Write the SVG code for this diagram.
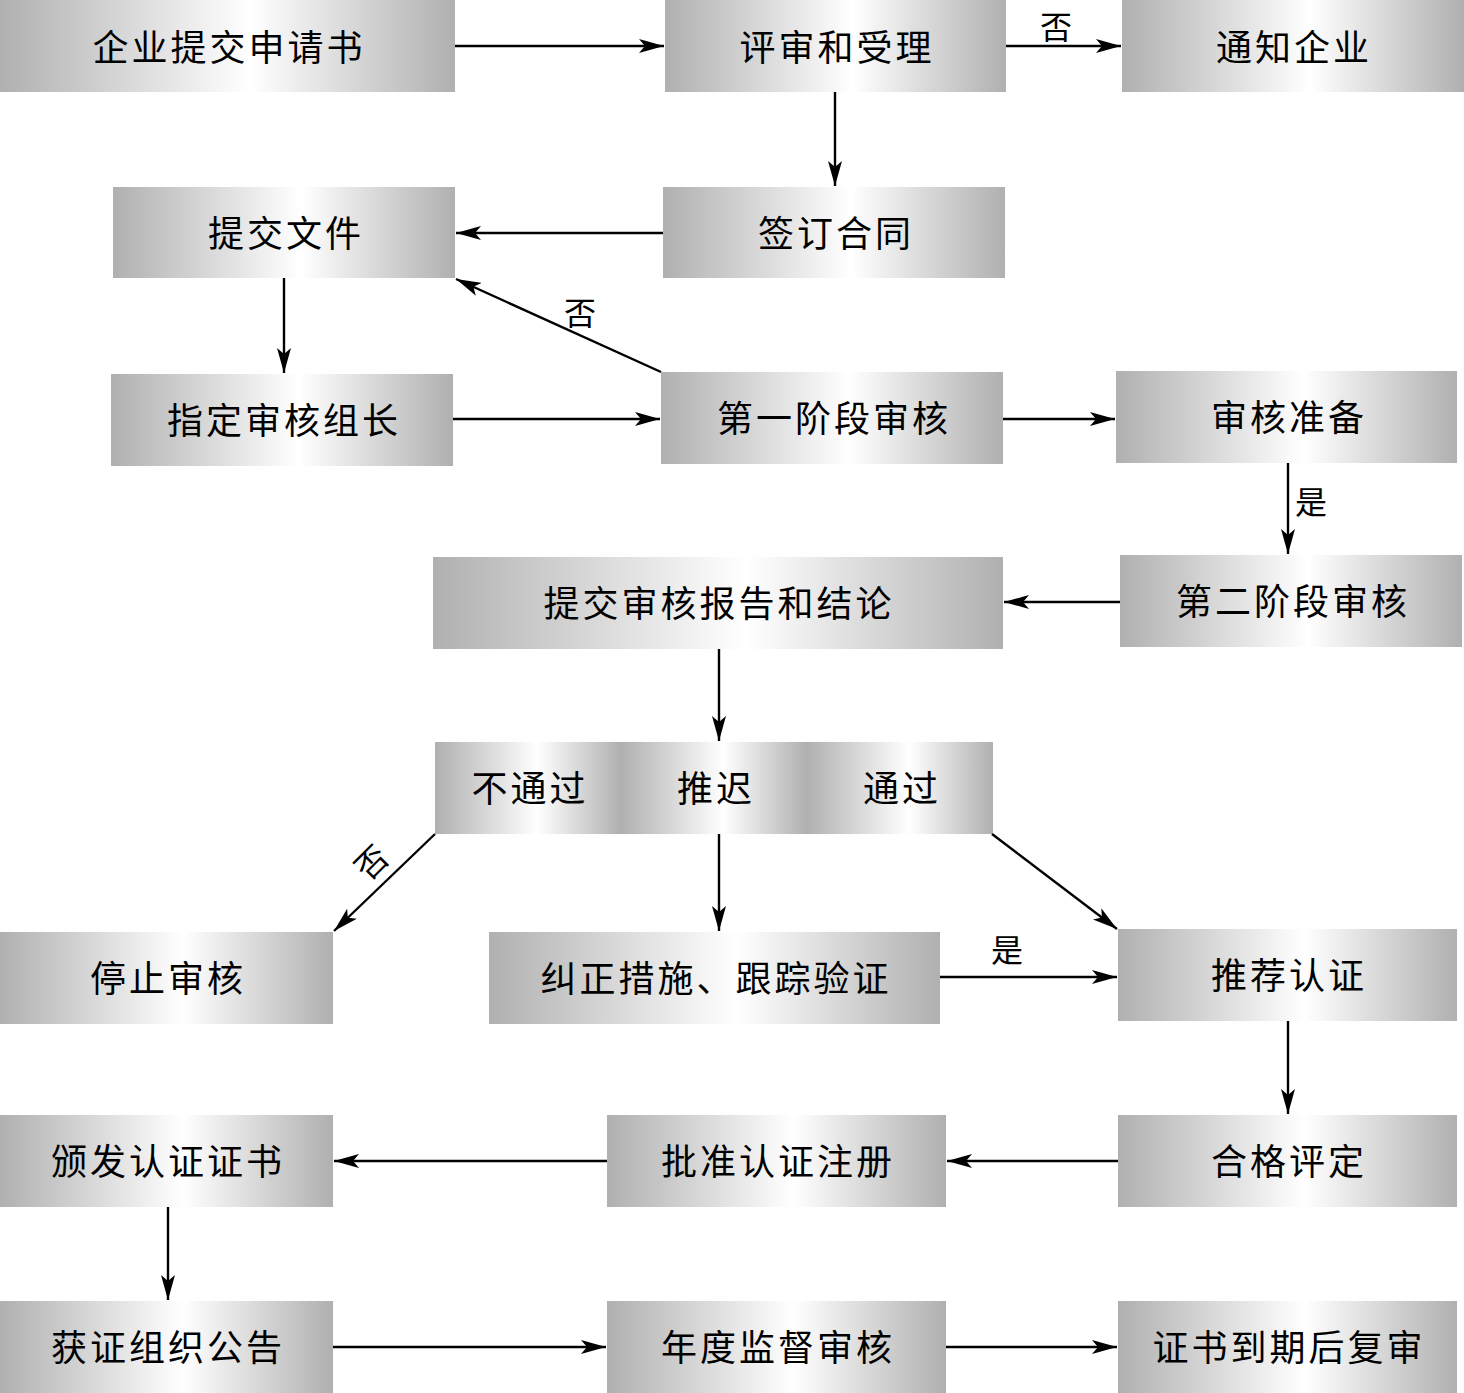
<svg xmlns="http://www.w3.org/2000/svg" width="1464" height="1393" viewBox="0 0 1464 1393">
<defs>
<linearGradient id="g" x1="0" y1="0" x2="1" y2="0">
<stop offset="0" stop-color="#b0b0b0"/>
<stop offset="0.55" stop-color="#ffffff"/>
<stop offset="1" stop-color="#b0b0b0"/>
</linearGradient>
<marker id="a" markerUnits="userSpaceOnUse" markerWidth="28" markerHeight="14" refX="25" refY="7" orient="auto">
<path d="M0,0 L25,7 L0,14 L6,7 Z" fill="#000"/>
</marker>
</defs>
<style>
.b{fill:url(#g);}
.t{font-family:"Noto Sans CJK SC","Noto Sans CJK TC",sans-serif;font-size:36px;letter-spacing:3px;text-anchor:middle;fill:#000;}
.l{font-family:"Noto Sans CJK SC","Noto Sans CJK TC",sans-serif;font-size:32px;text-anchor:middle;fill:#000;}
.c line{stroke:#000;stroke-width:2.4;marker-end:url(#a);}
</style>
<rect width="1464" height="1393" fill="#fff"/>
<g id="n1"><rect class="b" x="0" y="0" width="455" height="92"/><text class="t" x="229" y="61">企业提交申请书</text></g>
<g id="n2"><rect class="b" x="665" y="0" width="341" height="92"/><text class="t" x="837" y="61">评审和受理</text></g>
<g id="n3"><rect class="b" x="1122" y="0" width="342" height="92"/><text class="t" x="1294" y="61">通知企业</text></g>
<g id="n4"><rect class="b" x="113" y="187" width="342" height="91"/><text class="t" x="286" y="247">提交文件</text></g>
<g id="n5"><rect class="b" x="663" y="187" width="342" height="91"/><text class="t" x="836" y="247">签订合同</text></g>
<g id="n6"><rect class="b" x="111" y="374" width="342" height="92"/><text class="t" x="284" y="434">指定审核组长</text></g>
<g id="n7"><rect class="b" x="661" y="372" width="342" height="92"/><text class="t" x="834" y="432">第一阶段审核</text></g>
<g id="n8"><rect class="b" x="1116" y="371" width="341" height="92"/><text class="t" x="1289" y="431">审核准备</text></g>
<g id="n9"><rect class="b" x="433" y="557" width="570" height="92"/><text class="t" x="719" y="617">提交审核报告和结论</text></g>
<g id="n10"><rect class="b" x="1120" y="555" width="342" height="92"/><text class="t" x="1293" y="615">第二阶段审核</text></g>
<g id="n11">
<rect class="b" x="435" y="742" width="186" height="92"/>
<rect class="b" x="621" y="742" width="186" height="92"/>
<rect class="b" x="807" y="742" width="186" height="92"/>
<text class="t" x="530" y="802">不通过</text>
<text class="t" x="716" y="802">推迟</text>
<text class="t" x="902" y="802">通过</text>
</g>
<g id="n12"><rect class="b" x="0" y="932" width="333" height="92"/><text class="t" x="168" y="992">停止审核</text></g>
<g id="n13"><rect class="b" x="489" y="932" width="451" height="92"/><text class="t" x="716" y="992">纠正措施、跟踪验证</text></g>
<g id="n14"><rect class="b" x="1118" y="929" width="339" height="92"/><text class="t" x="1289" y="989">推荐认证</text></g>
<g id="n15"><rect class="b" x="0" y="1115" width="333" height="92"/><text class="t" x="168" y="1175">颁发认证证书</text></g>
<g id="n16"><rect class="b" x="607" y="1115" width="339" height="92"/><text class="t" x="778" y="1175">批准认证注册</text></g>
<g id="n17"><rect class="b" x="1118" y="1115" width="339" height="92"/><text class="t" x="1289" y="1175">合格评定</text></g>
<g id="n18"><rect class="b" x="0" y="1301" width="333" height="92"/><text class="t" x="168" y="1361">获证组织公告</text></g>
<g id="n19"><rect class="b" x="607" y="1301" width="339" height="92"/><text class="t" x="778" y="1361">年度监督审核</text></g>
<g id="n20"><rect class="b" x="1118" y="1301" width="339" height="92"/><text class="t" x="1289" y="1361">证书到期后复审</text></g>
<g id="connectors" class="c">
<line x1="455" y1="46" x2="664" y2="46"/>
<line x1="1006" y1="46" x2="1121" y2="46"/>
<line x1="835" y1="92" x2="835" y2="186"/>
<line x1="663" y1="233" x2="456" y2="233"/>
<line x1="284" y1="278" x2="284" y2="373"/>
<line x1="661" y1="372" x2="456" y2="279"/>
<line x1="453" y1="419" x2="660" y2="419"/>
<line x1="1003" y1="419" x2="1115" y2="419"/>
<line x1="1288" y1="463" x2="1288" y2="554"/>
<line x1="1120" y1="602" x2="1004" y2="602"/>
<line x1="719" y1="649" x2="719" y2="741"/>
<line x1="435" y1="834" x2="334" y2="931"/>
<line x1="719" y1="834" x2="719" y2="931"/>
<line x1="992" y1="834" x2="1117" y2="929"/>
<line x1="940" y1="977" x2="1117" y2="977"/>
<line x1="1288" y1="1021" x2="1288" y2="1114"/>
<line x1="1118" y1="1161" x2="947" y2="1161"/>
<line x1="607" y1="1161" x2="334" y2="1161"/>
<line x1="168" y1="1207" x2="168" y2="1300"/>
<line x1="333" y1="1347" x2="606" y2="1347"/>
<line x1="946" y1="1347" x2="1117" y2="1347"/>
</g>
<g id="labels">
<text class="l" x="1056" y="39">否</text>
<text class="l" x="580" y="325">否</text>
<text class="l" x="1311" y="514">是</text>
<text class="l" x="1007" y="962">是</text>
<text class="l" transform="translate(372,863) rotate(-45)" y="11">否</text>
</g>
</svg>
